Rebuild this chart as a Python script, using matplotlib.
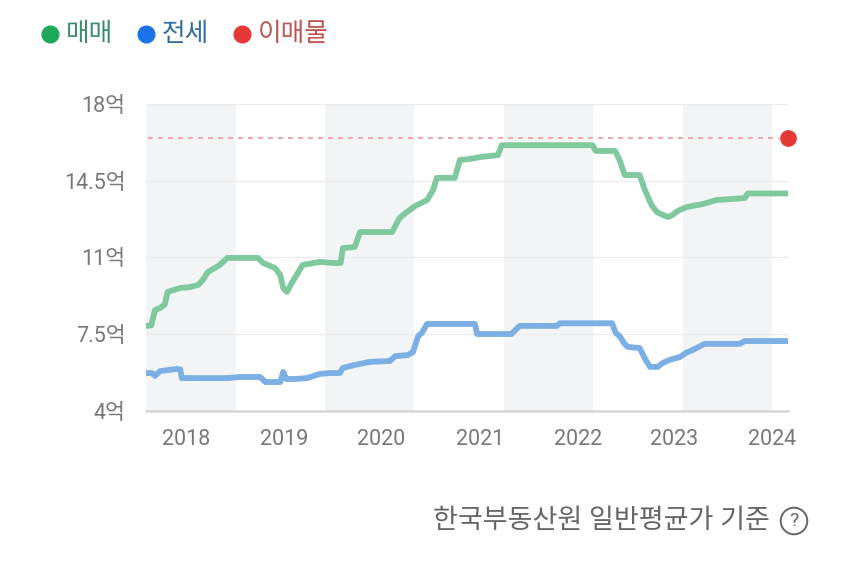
import matplotlib
matplotlib.use("Agg")
import matplotlib.pyplot as plt
from matplotlib.lines import Line2D

plt.rcParams['font.family'] = ['Roboto', 'Noto Sans CJK KR', 'DejaVu Sans']

# x = months from the left edge of the chart, values in 억
sale_x = [0, 0.7, 1.2, 1.9, 2.5, 2.9, 4.6, 5.9, 7.0, 7.6, 8.3, 9.2, 9.9, 10.9, 15.0, 15.7,
          17.3, 18.0, 18.4, 18.9, 19.6, 20.2, 21.0, 23.3, 25.1, 26.1, 26.4, 28.0, 28.7,
          33.0, 34.0, 35.0, 36.1, 37.7, 38.5, 39.0, 41.4, 42.1, 43.4, 44.8, 47.2, 47.7,
          59.9, 60.3, 62.9, 63.5, 64.2, 66.2, 66.9, 67.8, 68.5, 69.3, 70.0, 70.6, 71.3,
          72.5, 74.7, 76.5, 80.3, 80.7, 86.1]
sale_v = [7.88, 7.9, 8.6, 8.7, 8.85, 9.43, 9.61, 9.65, 9.75, 9.97, 10.34, 10.52, 10.66,
          10.98, 10.98, 10.75, 10.52, 10.2, 9.61, 9.43, 9.88, 10.2, 10.66, 10.8, 10.75,
          10.75, 11.43, 11.48, 12.16, 12.16, 12.8, 13.08, 13.35, 13.62, 14.08, 14.63,
          14.63, 15.45, 15.49, 15.58, 15.67, 16.12, 16.12, 15.86, 15.86, 15.45, 14.76,
          14.76, 14.08, 13.39, 13.08, 12.94, 12.85, 12.94, 13.12, 13.3, 13.44, 13.62,
          13.71, 13.92, 13.92]

rent_x = [0, 0.8, 1.2, 1.9, 4.2, 4.6, 4.8, 10.9, 12.6, 15.3, 16.0, 18.0, 18.4, 18.8,
          20.0, 21.6, 23.3, 24.7, 26.0, 26.4, 28.0, 30.0, 32.7, 33.4, 35.1, 35.8, 36.5,
          37.0, 37.7, 44.1, 44.4, 49.0, 50.1, 55.1, 55.5, 62.5, 63.0, 63.5, 64.1, 64.6,
          66.2, 67.0, 67.6, 68.6, 69.3, 70.2, 71.6, 72.4, 73.3, 74.9, 79.6, 80.3, 86.1]
rent_v = [5.73, 5.73, 5.6, 5.82, 5.92, 5.89, 5.5, 5.5, 5.55, 5.55, 5.32, 5.32, 5.78, 5.46,
          5.46, 5.5, 5.69, 5.73, 5.73, 5.96, 6.1, 6.24, 6.28, 6.5, 6.55, 6.69, 7.42, 7.56,
          7.97, 7.97, 7.51, 7.51, 7.88, 7.88, 8.0, 8.0, 7.56, 7.42, 7.1, 6.92, 6.87, 6.33,
          6.01, 6.01, 6.19, 6.33, 6.46, 6.65, 6.78, 7.06, 7.06, 7.19, 7.19]

listing_x = 86.1
listing_v = 16.45

year_labels = ['2018', '2019', '2020', '2021', '2022', '2023', '2024']
year_pos = [5.4, 18.5, 31.5, 44.8, 57.9, 70.8, 83.9]
shade_spans = [(0, 12), (24, 36), (48, 60), (72, 84)]
y_ticks = [4, 7.5, 11, 14.5, 18]

fig = plt.figure(figsize=(8.5, 5.64), dpi=100)
ax = fig.add_axes([0.1718, 0.2713, 0.7553, 0.5443])

for a, b in shade_spans:
    ax.axvspan(a, b, color='#f3f4f6', lw=0, zorder=0)
for t in y_ticks[1:]:
    ax.axhline(t, color='#ececec', lw=1, zorder=0.5)

ax.plot(sale_x, sale_v, color='#80c99f', lw=4.2, solid_joinstyle='round',
        solid_capstyle='round', zorder=3)
ax.plot(rent_x, rent_v, color='#7cafe3', lw=4.2, solid_joinstyle='round',
        solid_capstyle='round', zorder=3)
ax.plot([0.3, listing_x - 1.2], [listing_v, listing_v], color='#ef9a9a', lw=1.2,
        dashes=(3, 3), zorder=2)
ax.plot([listing_x], [listing_v], 'o', color='#e53935', ms=11, clip_on=False, zorder=4)

ax.set_xlim(0, 86.1)
ax.set_ylim(4, 18)
ax.set_yticks(y_ticks)
ax.set_yticklabels([f'{t:g}억' for t in y_ticks], fontsize=15.5, color='#777777')
ax.set_xticks(year_pos)
ax.set_xticklabels(year_labels, fontsize=15.5, color='#777777')
ax.tick_params(axis='y', length=0, pad=15)
ax.tick_params(axis='x', length=0, pad=13)
for s in ['top', 'right', 'left']:
    ax.spines[s].set_visible(False)
ax.spines['bottom'].set_color('#d6d6d6')
ax.spines['bottom'].set_linewidth(1.8)

# legend along the top
legend_items = [('매매', '#1fa85a', '#3b8d68', 50), ('전세', '#1a73e8', '#2f6ea3', 146),
                ('이매물', '#e53935', '#bf5552', 242)]
for name, dot, txt, px in legend_items:
    fig.add_artist(Line2D([px / 850], [1 - 34 / 564], marker='o', color=dot, ms=12,
                          lw=0, transform=fig.transFigure))
    fig.text((px + 16) / 850, 1 - 34 / 564, name, color=txt, fontsize=18.5,
             va='center', ha='left')

fig.text(770 / 850, 1 - 521 / 564, '한국부동산원 일반평균가 기준', color='#666666',
         fontsize=19.5, va='center', ha='right')
fig.text(794 / 850, 1 - 521 / 564, '?', color='#666666', fontsize=14, va='center',
         ha='center', bbox=dict(boxstyle='circle,pad=0.22', fc='none', ec='#666666', lw=1.4))

fig.savefig('out.png', dpi=100, facecolor='white')
